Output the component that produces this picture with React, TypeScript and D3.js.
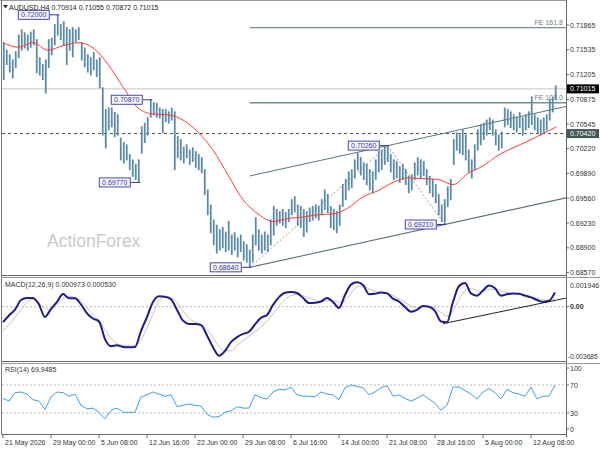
import * as d3 from "d3";

// H4 bars, two bars per column (high / low)
const barHigh = [
  0.7163, 0.7153, 0.7147, 0.7140, 0.7151, 0.7173, 0.7180, 0.7176, 0.7173, 0.7177,
  0.7180, 0.7167, 0.7143, 0.7134, 0.7140, 0.7167, 0.7169, 0.7187, 0.7200, 0.7187,
  0.7191, 0.7183, 0.7180, 0.7183, 0.7180, 0.7183, 0.7163, 0.7156, 0.7147, 0.7143,
  0.7150, 0.7140, 0.7143, 0.7103, 0.7074, 0.7076, 0.7076, 0.7070, 0.7067, 0.7036,
  0.7030, 0.7027, 0.7014, 0.7007, 0.7001, 0.7007, 0.7051, 0.7056, 0.7063, 0.7087,
  0.7083, 0.7082, 0.7076, 0.7074, 0.7074, 0.7071, 0.7076, 0.7071, 0.7038, 0.7034,
  0.7024, 0.7027, 0.7020, 0.7023, 0.7018, 0.7014, 0.7010, 0.6994, 0.6967, 0.6947,
  0.6927, 0.6920, 0.6914, 0.6917, 0.6911, 0.6925, 0.6907, 0.6910, 0.6903, 0.6907,
  0.6898, 0.6894, 0.6887, 0.6907, 0.6930, 0.6914, 0.6907, 0.6911, 0.6907, 0.6927,
  0.6945, 0.6941, 0.6938, 0.6941, 0.6937, 0.6941, 0.6954, 0.6958, 0.6947, 0.6945,
  0.6941, 0.6938, 0.6943, 0.6945, 0.6947, 0.6945, 0.6954, 0.6967, 0.6961, 0.6945,
  0.6941, 0.6938, 0.6947, 0.6974, 0.6981, 0.6991, 0.6994, 0.7007, 0.7016, 0.7010,
  0.7003, 0.7001, 0.6994, 0.6991, 0.7007, 0.7018, 0.7020, 0.7024, 0.7026, 0.7014,
  0.7007, 0.7005, 0.6998, 0.7001, 0.6994, 0.6985, 0.6987, 0.7003, 0.7010, 0.7007,
  0.7005, 0.6994, 0.6985, 0.6981, 0.6974, 0.6961, 0.6947, 0.6954, 0.6971, 0.6981,
  0.7034, 0.7043, 0.7040, 0.7047, 0.7040, 0.7020, 0.7007, 0.7027, 0.7047, 0.7054,
  0.7056, 0.7060, 0.7063, 0.7060, 0.7047, 0.7040, 0.7044, 0.7076, 0.7074, 0.7071,
  0.7067, 0.7064, 0.7070, 0.7063, 0.7067, 0.7071, 0.7091, 0.7067, 0.7063, 0.7060,
  0.7063, 0.7067, 0.7087, 0.7090, 0.71055,
];
const barLow = [
  0.7114, 0.7134, 0.7124, 0.7116, 0.7130, 0.7143, 0.7153, 0.7156, 0.7153, 0.7157,
  0.7160, 0.7123, 0.7120, 0.7114, 0.7096, 0.7130, 0.7147, 0.7160, 0.7173, 0.7167,
  0.7160, 0.7134, 0.7153, 0.7144, 0.7164, 0.7167, 0.7140, 0.7131, 0.7124, 0.7120,
  0.7127, 0.7118, 0.7103, 0.7040, 0.7023, 0.7047, 0.7051, 0.7038, 0.7040, 0.7007,
  0.7003, 0.7007, 0.6994, 0.6985, 0.6981, 0.6977, 0.7016, 0.7030, 0.7040, 0.7064,
  0.7067, 0.7064, 0.7063, 0.7043, 0.7058, 0.7056, 0.7060, 0.6994, 0.7010, 0.7007,
  0.7003, 0.7010, 0.7001, 0.7005, 0.6997, 0.6994, 0.6990, 0.6961, 0.6934, 0.6910,
  0.6894, 0.6883, 0.6887, 0.6890, 0.6885, 0.6887, 0.6881, 0.6887, 0.6878, 0.6885,
  0.6874, 0.6871, 0.6864, 0.6871, 0.6894, 0.6887, 0.6883, 0.6887, 0.6885, 0.6894,
  0.6907, 0.6920, 0.6923, 0.6920, 0.6917, 0.6925, 0.6934, 0.6938, 0.6920, 0.6917,
  0.6905, 0.6911, 0.6925, 0.6927, 0.6930, 0.6927, 0.6934, 0.6941, 0.6937, 0.6917,
  0.6914, 0.6910, 0.6920, 0.6945, 0.6954, 0.6967, 0.6970, 0.6983, 0.6994, 0.6987,
  0.6981, 0.6974, 0.6967, 0.6963, 0.6981, 0.6991, 0.6994, 0.7001, 0.7005, 0.6991,
  0.6981, 0.6983, 0.6977, 0.6981, 0.6974, 0.6963, 0.6967, 0.6981, 0.6987, 0.6983,
  0.6986, 0.6974, 0.6963, 0.6958, 0.6950, 0.6934, 0.6925, 0.6921, 0.6945, 0.6954,
  0.7001, 0.7020, 0.7016, 0.7014, 0.7007, 0.6991, 0.6983, 0.6994, 0.7020, 0.7027,
  0.7034, 0.7040, 0.7047, 0.7040, 0.7027, 0.7020, 0.7023, 0.7051, 0.7054, 0.7050,
  0.7047, 0.7044, 0.7050, 0.7040, 0.7047, 0.7050, 0.7054, 0.7047, 0.7043, 0.7040,
  0.7044, 0.7047, 0.7060, 0.7071, 0.7087,
];

// moving average, one value every 10 bars (last one on the last bar)
const maValues = [
  0.7163, 0.7157, 0.7163, 0.7153, 0.7159, 0.7163, 0.7156, 0.7134, 0.7104, 0.7076,
  0.7068, 0.7067, 0.7060, 0.7044, 0.7020, 0.6987, 0.6954, 0.6935, 0.6925, 0.6929,
  0.6931, 0.6934, 0.6935, 0.6943, 0.6958, 0.6966, 0.6977, 0.6983, 0.6982, 0.6981,
  0.6974, 0.6989, 0.6999, 0.7013, 0.7023, 0.7032, 0.7042, 0.7051,
];

// indicators, one value every 4 bars
const macdMain = [
  -0.00105, -0.0006, -0.0002, 0.00045, 0.00059, 0.00059, 0.00015, -0.0007, -0.00015, 0.00032,
  0.00086, 0.00057, 0.00057, 0.00015, -0.00045, -0.0008, -0.001, -0.0022, -0.00268, -0.00262,
  -0.00273, -0.00275, -0.00273, -0.00165, -0.0007, 0.00032, 0.0007, 0.00068, 0.0005, -0.00022,
  -0.00095, -0.00117, -0.00117, -0.00125, -0.00195, -0.00275, -0.00333, -0.003, -0.0024, -0.00207,
  -0.00185, -0.0017, -0.0012, -0.00075, -0.00056, 0.00012, 0.00065, 0.00095, 0.001, 0.00093,
  0.0006, 0.00025, 0.00027, 0.00035, 0.00059, 0.00032, -0.00009, 0.00079, 0.0015, 0.00165,
  0.00147, 0.00085, 0.00088, 0.00097, 0.0009, 0.00055, 0.00035, -0.00002, -0.00034, -0.00022,
  0.00005, 0.0, -0.0003, -0.001, -0.00105, 0.00032, 0.0014, 0.00161, 0.0009, 0.00075,
  0.0011, 0.00143, 0.00125, 0.00075, 0.00085, 0.0009, 0.00087, 0.00075, 0.00063, 0.00045,
  0.00032, 0.0004, 0.00097,
];
const macdSignal = [
  -0.00165, -0.0012, -0.00075, -0.0002, 0.0003, 0.0005, 0.00025, -0.0001, -0.0002, 0.00015,
  0.00055, 0.0007, 0.00062, 0.0004, -0.00005, -0.00055, -0.0009, -0.0016, -0.00215, -0.0025,
  -0.00262, -0.00266, -0.00266, -0.00225, -0.00144, -0.0005, 0.0004, 0.0007, 0.0006, 0.0003,
  -0.0003, -0.00078, -0.00105, -0.0012, -0.00155, -0.0021, -0.0027, -0.003, -0.003, -0.00265,
  -0.0023, -0.002, -0.0017, -0.00135, -0.001, -0.0005, 0.00005, 0.0005, 0.00075, 0.00082,
  0.00075, 0.0006, 0.00045, 0.00035, 0.0004, 0.00042, 0.0003, 0.0004, 0.0009, 0.00135,
  0.0014, 0.0012, 0.00105, 0.00097, 0.00093, 0.00075, 0.00055, 0.0003, 0.00005, -0.00005,
  0.0, 0.0, -0.0001, -0.0004, -0.00065, -0.0003, 0.0005, 0.0011, 0.00125, 0.0011,
  0.00105, 0.00118, 0.0012, 0.00105, 0.00095, 0.0009, 0.00087, 0.0008, 0.0007, 0.00058,
  0.00045, 0.0004, 0.00053,
];
const rsiValues = [
  51, 47, 59, 60, 57, 49, 47, 35, 53, 60,
  59, 54, 57, 41, 36, 37, 31, 22, 34, 37,
  31, 31, 31, 53, 56, 60, 57, 54, 56, 39,
  41, 43, 41, 40, 28, 24, 25, 31, 33, 39,
  37, 37, 56, 52, 50, 60, 64, 63, 67, 56,
  54, 54, 53, 60, 57, 56, 49, 66, 70, 68,
  66, 56, 60, 66, 69, 54, 56, 51, 47, 51,
  56, 50, 44, 34, 41, 67, 67, 62, 57, 50,
  60, 65, 59, 50, 64, 59, 57, 54, 67, 50,
  54, 54, 69.95,
];

const priceTicks = ["0.71865", "0.71535", "0.71205", "0.70875", "0.70545", "0.70220", "0.69890", "0.69560", "0.69230", "0.68900", "0.68570"];
const timeLabels = ["21 May 2026", "29 May 00:00", "5 Jun 08:00", "12 Jun 16:00", "22 Jun 00:00", "29 Jun 08:00", "6 Jul 16:00", "14 Jul 00:00", "21 Jul 08:00", "28 Jul 16:00", "5 Aug 00:00", "12 Aug 08:00"];
const barsPerLabel = 32;

// swing labels: column of the bar and its price
const swingCols = [18, 49, 45, 82, 128, 147];
const swingPrices = [0.72000, 0.70870, 0.69770, 0.68640, 0.70260, 0.69210];

const lastPrice = 0.71015;
const levelPrice = 0.70420;
const feLevels = [0.7083, 0.71831];
const feNames = ["FE 100.0", "FE 161.8"];
const macdTrend = [[293.5, -0.00115], [375.7, 0.00059]];

const FONT = "'Liberation Sans', Arial, sans-serif";

export default function App() {
  const axisX = 566;
  const left = 2;
  const x = d3.scaleLinear().domain([0, 369]).range([3, 556.5]);
  const yP = d3.scaleLinear().domain([0.6857, 0.71865]).range([272.6, 25]);
  const yM = d3.scaleLinear().domain([-0.003685, 0.001946]).range([361, 278]);
  const yR = d3.scaleLinear().domain([0, 100]).range([434, 364]);
  const iEnd = x.invert(axisX);

  const colIdx = (k: number) => 2 * k + 0.5;
  const lowIdx = colIdx(swingCols[3]);
  const highIdx = colIdx(swingCols[4]);
  const low2Idx = colIdx(swingCols[5]);
  const slope = (swingPrices[5] - swingPrices[3]) / (low2Idx - lowIdx);
  const lowerAt = (i: number) => swingPrices[3] + slope * (i - lowIdx);
  const upperAt = (i: number) => swingPrices[4] + slope * (i - highIdx);

  const maLine = d3.line<number>()
    .x((_, j) => x(Math.min(j * 10, 369)))
    .y((v) => yP(v))
    .curve(d3.curveMonotoneX);
  const macdLine = d3.line<number>()
    .x((_, j) => x(j * 4))
    .y((v) => yM(v))
    .curve(d3.curveMonotoneX);
  const rsiLine = d3.line<number>()
    .x((_, j) => x(j * 4))
    .y((v) => yR(v));

  const txt = { fontFamily: FONT, fontSize: 7, fill: "#333" } as any;
  const trendCol = "#5d7474";

  return (
    <svg width={600} height={450} style={{ position: "absolute", left: 0, top: 0, background: "#fff" }}>
      <defs>
        <clipPath id="mainClip"><rect x={left} y={1} width={axisX - left} height={274} /></clipPath>
        <clipPath id="macdClip"><rect x={left} y={278} width={axisX - left} height={83} /></clipPath>
        <clipPath id="rsiClip"><rect x={left} y={364} width={axisX - left} height={70} /></clipPath>
      </defs>
      <rect x={0} y={0} width={600} height={450} fill="#fff" />

      {/* main panel */}
      <g clipPath="url(#mainClip)">
        <text x={47} y={247} fontFamily={FONT} fontSize={17.5} fill="#c9c9c9">ActionForex</text>
        <line x1={left} x2={axisX} y1={yP(lastPrice)} y2={yP(lastPrice)} stroke="#c4c4c4" />
        <line x1={left} x2={axisX} y1={yP(levelPrice)} y2={yP(levelPrice)} stroke="#3d5252" strokeDasharray="3 3" />
        {feLevels.map((v, i) => (
          <line key={i} x1={x(lowIdx)} x2={axisX} y1={yP(v)} y2={yP(v)} stroke="#7a8c8c" strokeWidth={1.3} />
        ))}
        <line x1={x(lowIdx)} x2={axisX} y1={yP(lowerAt(lowIdx))} y2={yP(lowerAt(iEnd))} stroke={trendCol} strokeWidth={1.1} />
        <line x1={x(lowIdx)} x2={axisX} y1={yP(upperAt(lowIdx))} y2={yP(upperAt(iEnd))} stroke={trendCol} strokeWidth={1.1} />
        <polyline
          points={[[lowIdx, swingPrices[3]], [highIdx, swingPrices[4]], [low2Idx, swingPrices[5]]].map(([i, v]) => `${x(i)},${yP(v)}`).join(" ")}
          fill="none" stroke="#9a9a9a" strokeDasharray="2 2" />
        {barHigh.map((h, k) => (
          <line key={k} x1={x(colIdx(k))} x2={x(colIdx(k))} y1={yP(h) - 0.5} y2={yP(barLow[k]) + 0.5}
            stroke="#5a8aa5" strokeWidth={1.8} />
        ))}
        <path d={maLine(maValues) || ""} fill="none" stroke="#ff3a3a" strokeWidth={1} />
        {feLevels.map((v, i) => (
          <text key={i} x={axisX - 3} y={yP(v) - 2.5} textAnchor="end" {...txt} fill="#6b7d7d">{feNames[i]}</text>
        ))}
        {swingCols.map((k, i) => {
          const bx = x(colIdx(k));
          const by = yP(swingPrices[i]);
          return (
            <g key={i}>
              <line x1={bx - 8} x2={bx + 1.5} y1={by} y2={by} stroke="#3535a8" />
              <rect x={bx - 39.5} y={by - 4.5} width={31} height={9} fill="#f6f6ff" stroke="#3535a8" strokeWidth={0.9} />
              <text x={bx - 24} y={by + 2.6} textAnchor="middle" {...txt} fill="#3535a8">{swingPrices[i].toFixed(5)}</text>
            </g>
          );
        })}
      </g>
      <path d="M3,5 L8,5 L5.5,8.5 Z" fill="#333" />
      <text x={9} y={10} {...txt} fill="#222">AUDUSD.H4  0.70914 0.71055 0.70872 0.71015</text>

      {/* MACD panel */}
      <g clipPath="url(#macdClip)">
        <line x1={left} x2={axisX} y1={yM(0)} y2={yM(0)} stroke="#b8b8b8" strokeDasharray="2 2" />
        <path d={macdLine(macdSignal) || ""} fill="none" stroke="#c4c4c4" strokeWidth={1} />
        <path d={macdLine(macdMain) || ""} fill="none" stroke="#1c1c8c" strokeWidth={2} />
        <line x1={x(macdTrend[0][0])} x2={x(macdTrend[1][0])} y1={yM(macdTrend[0][1])} y2={yM(macdTrend[1][1])} stroke="#222" strokeWidth={1} />
      </g>
      <text x={5} y={286.5} {...txt}>MACD(12,26,9) 0.000973 0.000530</text>

      {/* RSI panel */}
      <g clipPath="url(#rsiClip)">
        {[70, 30].map((v) => (
          <line key={v} x1={left} x2={axisX} y1={yR(v)} y2={yR(v)} stroke="#b8b8b8" strokeDasharray="2 2" />
        ))}
        <path d={rsiLine(rsiValues) || ""} fill="none" stroke="#3f9deb" strokeWidth={1} />
      </g>
      <text x={5} y={371.5} {...txt}>RSI(14) 69.9485</text>

      {/* frame */}
      <line x1={0} x2={axisX} y1={0.5} y2={0.5} stroke="#999" />
      <line x1={1.5} x2={1.5} y1={0} y2={434.5} stroke="#777" />
      <line x1={axisX + 0.5} x2={axisX + 0.5} y1={0} y2={437} stroke="#666" />
      <line x1={1.5} x2={axisX + 0.5} y1={434.5} y2={434.5} stroke="#666" />
      {[275.5, 361.5].map((y) => (
        <g key={y}>
          <line x1={1.5} x2={axisX + 0.5} y1={y} y2={y} stroke="#666" />
          <line x1={1.5} x2={600} y1={y + 2} y2={y + 2} stroke="#999" />
        </g>
      ))}

      {/* price axis */}
      {priceTicks.map((t) => (
        <g key={t}>
          <line x1={axisX} x2={axisX + 3} y1={yP(+t)} y2={yP(+t)} stroke="#666" />
          <text x={axisX + 4} y={yP(+t) + 2.5} {...txt}>{t}</text>
        </g>
      ))}
      <rect x={axisX + 1} y={yP(lastPrice) - 4.5} width={32} height={9} fill="#000" />
      <text x={axisX + 4} y={yP(lastPrice) + 2.5} {...txt} fill="#fff">{lastPrice.toFixed(5)}</text>
      <rect x={axisX + 1} y={yP(levelPrice) - 4.5} width={32} height={9} fill="#3f5858" />
      <text x={axisX + 4} y={yP(levelPrice) + 2.5} {...txt} fill="#fff">{levelPrice.toFixed(5)}</text>

      {/* MACD axis */}
      <text x={axisX + 4} y={287.5} {...txt}>0.001946</text>
      <text x={axisX + 4} y={yM(0) + 2.5} {...txt} fontWeight="bold">0.00</text>
      <text x={axisX + 2} y={358.5} {...txt} fontSize={6.6}>-0.003685</text>
      <line x1={axisX} x2={axisX + 3} y1={yM(0)} y2={yM(0)} stroke="#666" />

      {/* RSI axis */}
      {[100, 70, 30, 0].map((v) => {
        const yy = v === 100 ? 368 : v === 0 ? 429 : yR(v);
        return (
          <g key={v}>
            <line x1={axisX} x2={axisX + 3} y1={yy} y2={yy} stroke="#666" />
            <text x={axisX + 4} y={yy + 2.5} {...txt}>{v}</text>
          </g>
        );
      })}

      {/* time axis */}
      {timeLabels.map((t, i) => {
        const tx = x(i * barsPerLabel);
        return (
          <g key={t}>
            <line x1={tx} x2={tx} y1={434.5} y2={438} stroke="#666" />
            <text x={tx + 2} y={444.5} {...txt}>{t}</text>
          </g>
        );
      })}
    </svg>
  );
}
